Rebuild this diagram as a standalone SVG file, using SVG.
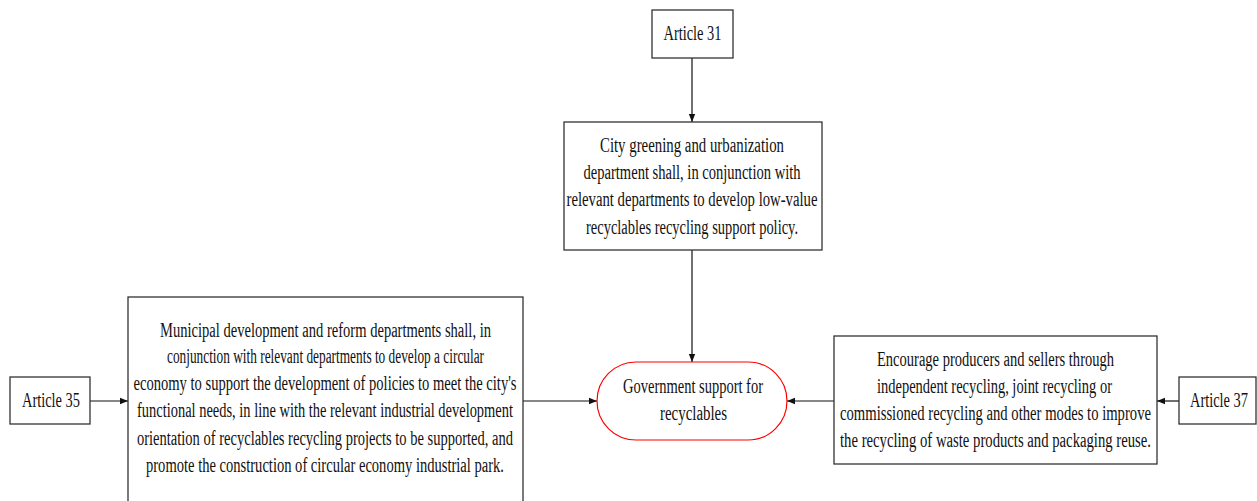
<svg xmlns="http://www.w3.org/2000/svg" width="1257" height="501" viewBox="0 0 1257 501">
  <style>
    .box { fill: #ffffff; stroke: #333333; stroke-width: 1.3; }
    .hub { fill: #ffffff; stroke: #ff0000; stroke-width: 1.2; }
    .lbl { font-family: "Liberation Serif", "Times New Roman", serif; font-size: 20px; fill: #111111; text-anchor: middle; }
    .edge { stroke: #111111; stroke-width: 1.2; fill: none; marker-end: url(#tip); }
  </style>
  <defs>
    <marker id="tip" viewBox="0 0 10 10" refX="10" refY="5" markerWidth="8" markerHeight="8" markerUnits="userSpaceOnUse" orient="auto">
      <path d="M0,1 L10,5 L0,9 Z" fill="#111111"/>
    </marker>
  </defs>
  <rect width="1257" height="501" fill="#ffffff"/>

  <g id="connectors">
    <line class="edge" x1="692" y1="58" x2="692" y2="122"/>
    <line class="edge" x1="692" y1="250" x2="692" y2="362"/>
    <line class="edge" x1="90" y1="401" x2="128" y2="401"/>
    <line class="edge" x1="523" y1="401" x2="597" y2="401"/>
    <line class="edge" x1="834" y1="401" x2="787" y2="401"/>
    <line class="edge" x1="1179" y1="401" x2="1157" y2="401"/>
  </g>

  <g id="article31">
    <rect class="box" x="652" y="10" width="81" height="48"/>
    <text class="lbl" x="692.5" y="40" textLength="58" lengthAdjust="spacingAndGlyphs">Article 31</text>
  </g>

  <g id="greening-policy">
    <rect class="box" x="564" y="122" width="258" height="128"/>
    <text class="lbl" x="692" y="152" textLength="184" lengthAdjust="spacingAndGlyphs">City greening and urbanization</text>
    <text class="lbl" x="692" y="179" textLength="217" lengthAdjust="spacingAndGlyphs">department shall, in conjunction with</text>
    <text class="lbl" x="692" y="206" textLength="251" lengthAdjust="spacingAndGlyphs">relevant departments to develop low-value</text>
    <text class="lbl" x="692" y="234" textLength="212" lengthAdjust="spacingAndGlyphs">recyclables recycling support policy.</text>
  </g>

  <g id="article35">
    <rect class="box" x="10" y="377" width="80" height="47"/>
    <text class="lbl" x="51" y="407" textLength="58" lengthAdjust="spacingAndGlyphs">Article 35</text>
  </g>

  <g id="circular-economy">
    <rect class="box" x="128" y="297" width="395" height="215"/>
    <text class="lbl" x="325.5" y="337" textLength="331" lengthAdjust="spacingAndGlyphs">Municipal development and reform departments shall, in</text>
    <text class="lbl" x="325.5" y="363" textLength="317" lengthAdjust="spacingAndGlyphs">conjunction with relevant departments to develop a circular</text>
    <text class="lbl" x="325" y="390" textLength="383" lengthAdjust="spacingAndGlyphs">economy to support the development of policies to meet the city's</text>
    <text class="lbl" x="325" y="417" textLength="376" lengthAdjust="spacingAndGlyphs">functional needs, in line with the relevant industrial development</text>
    <text class="lbl" x="325" y="445" textLength="376" lengthAdjust="spacingAndGlyphs">orientation of recyclables recycling projects to be supported, and</text>
    <text class="lbl" x="325" y="472" textLength="358" lengthAdjust="spacingAndGlyphs">promote the construction of circular economy industrial park.</text>
  </g>

  <g id="government-support">
    <rect class="hub" x="597" y="362" width="190" height="78" rx="39" ry="39"/>
    <text class="lbl" x="693" y="393" textLength="140" lengthAdjust="spacingAndGlyphs">Government support for</text>
    <text class="lbl" x="693.5" y="420" textLength="67" lengthAdjust="spacingAndGlyphs">recyclables</text>
  </g>

  <g id="producer-recycling">
    <rect class="box" x="834" y="336" width="323" height="128"/>
    <text class="lbl" x="995.5" y="366" textLength="237" lengthAdjust="spacingAndGlyphs">Encourage producers and sellers through</text>
    <text class="lbl" x="994.5" y="393" textLength="235" lengthAdjust="spacingAndGlyphs">independent recycling, joint recycling or</text>
    <text class="lbl" x="995.5" y="420" textLength="311" lengthAdjust="spacingAndGlyphs">commissioned recycling and other modes to improve</text>
    <text class="lbl" x="995.5" y="447" textLength="311" lengthAdjust="spacingAndGlyphs">the recycling of waste products and packaging reuse.</text>
  </g>

  <g id="article37">
    <rect class="box" x="1179" y="377" width="77" height="47"/>
    <text class="lbl" x="1219" y="407" textLength="58" lengthAdjust="spacingAndGlyphs">Article 37</text>
  </g>
</svg>
